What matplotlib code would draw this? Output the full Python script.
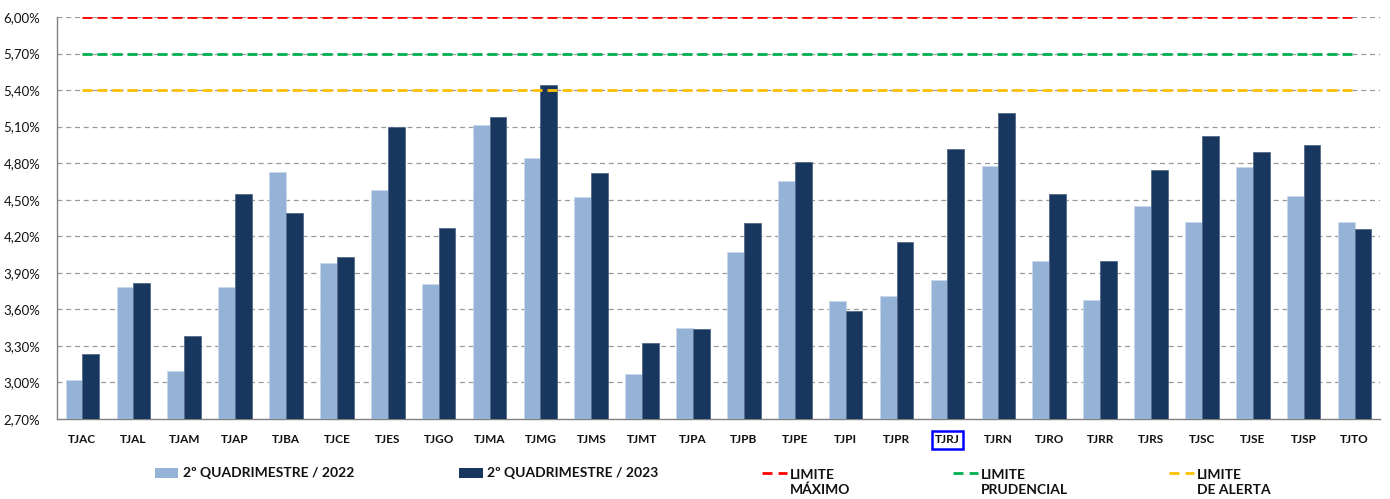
import matplotlib
matplotlib.use("Agg")
import matplotlib.pyplot as plt
import numpy as np
from matplotlib.ticker import FuncFormatter
from matplotlib.lines import Line2D
from matplotlib.patches import Rectangle

plt.rcParams['font.family'] = ['Lato', 'DejaVu Sans']

# Tribunais and their expense ratios (% of net current revenue)
tribunais = ['TJAC', 'TJAL', 'TJAM', 'TJAP', 'TJBA', 'TJCE', 'TJES', 'TJGO', 'TJMA',
             'TJMG', 'TJMS', 'TJMT', 'TJPA', 'TJPB', 'TJPE', 'TJPI', 'TJPR', 'TJRJ',
             'TJRN', 'TJRO', 'TJRR', 'TJRS', 'TJSC', 'TJSE', 'TJSP', 'TJTO']
quad_2022 = [3.02, 3.78, 3.09, 3.78, 4.73, 3.98, 4.58, 3.81, 5.11,
             4.84, 4.52, 3.07, 3.45, 4.07, 4.65, 3.67, 3.71, 3.84,
             4.78, 4.00, 3.68, 4.45, 4.32, 4.77, 4.53, 4.32]
quad_2023 = [3.23, 3.82, 3.38, 4.55, 4.39, 4.03, 5.10, 4.27, 5.18,
             5.44, 4.72, 3.32, 3.44, 4.31, 4.81, 3.59, 4.15, 4.92,
             5.21, 4.55, 4.00, 4.74, 5.02, 4.89, 4.95, 4.26]

limite_maximo = 6.00
limite_prudencial = 5.70
limite_alerta = 5.40
yticks = [2.70, 3.00, 3.30, 3.60, 3.90, 4.20, 4.50, 4.80, 5.10, 5.40, 5.70, 6.00]

light = '#95B3D7'
dark = '#17375E'
red = '#FF0000'
green = '#00B050'
yellow = '#FFC000'

fig = plt.figure(figsize=(13.9, 4.99), dpi=100)
ax = fig.add_axes([0.041, 0.1603, 0.9518, 0.8057])

x = np.arange(len(tribunais))
w = 0.33
ax.bar(x - w / 2, quad_2022, w, color=light, edgecolor='#c9d8ec', linewidth=0.6, zorder=3)
ax.bar(x + w / 2, quad_2023, w, color=dark, edgecolor='#55698a', linewidth=0.6, zorder=3)

# dashed gridlines
for t in yticks[1:]:
    ax.axhline(t, color='#9a9a9a', linewidth=0.9, linestyle=(0, (4, 3)), zorder=1)

# limit lines
for val, col in [(limite_maximo, red), (limite_prudencial, green), (limite_alerta, yellow)]:
    ax.hlines(val, x[0], x[-1], colors=col, linewidth=2, linestyles=[(0, (3.6, 1.8))], zorder=4)

ax.set_xlim(-0.5, len(tribunais) - 0.5)
ax.set_ylim(2.70, 6.00)
ax.set_yticks(yticks)
ax.yaxis.set_major_formatter(FuncFormatter(lambda v, p: f"{v:.2f}%".replace('.', ',')))
ax.set_xticks(x)
ax.set_xticklabels(tribunais, fontweight='bold', fontsize=8.5, color='#111111')
ax.tick_params(axis='x', length=0, pad=11)
ax.tick_params(axis='y', length=0, pad=12, labelsize=9.5, labelcolor='#111111')
for s in ['top', 'right']:
    ax.spines[s].set_visible(False)
for s in ['left', 'bottom']:
    ax.spines[s].set_color('#808080')
    ax.spines[s].set_linewidth(1)

# highlight TJRJ
for lab in ax.get_xticklabels():
    if lab.get_text() == 'TJRJ':
        lab.set_bbox(dict(facecolor='none', edgecolor='#0000FF', linewidth=1.8, pad=2.5))

# legend drawn manually
H = 499.0
W = 1390.0


def fx(px):
    return px / W


def fy(py):
    return 1 - py / H


txt_kw = dict(fontsize=10, fontweight='bold', va='center', ha='left', color='#111111')
fig.patches.append(Rectangle((fx(155), fy(478)), fx(23), 10 / H, transform=fig.transFigure,
                             facecolor=light, edgecolor='none'))
fig.text(fx(183), fy(473), '2º QUADRIMESTRE / 2022', **txt_kw)
fig.patches.append(Rectangle((fx(459), fy(478)), fx(24), 10 / H, transform=fig.transFigure,
                             facecolor=dark, edgecolor='none'))
fig.text(fx(487), fy(473), '2º QUADRIMESTRE / 2023', **txt_kw)

for x0, col, label in [(762, red, 'LIMITE\nMÁXIMO'), (953, green, 'LIMITE\nPRUDENCIAL'),
                       (1169, yellow, 'LIMITE\nDE ALERTA')]:
    fig.lines.append(Line2D([fx(x0), fx(x0 + 25)], [fy(473), fy(473)], transform=fig.transFigure,
                            color=col, linewidth=2, linestyle=(0, (3.6, 2.2))))
    fig.text(fx(x0 + 28), fy(482.5), label, linespacing=1.3, **txt_kw)

fig.savefig('out.png', dpi=100, facecolor='white')
